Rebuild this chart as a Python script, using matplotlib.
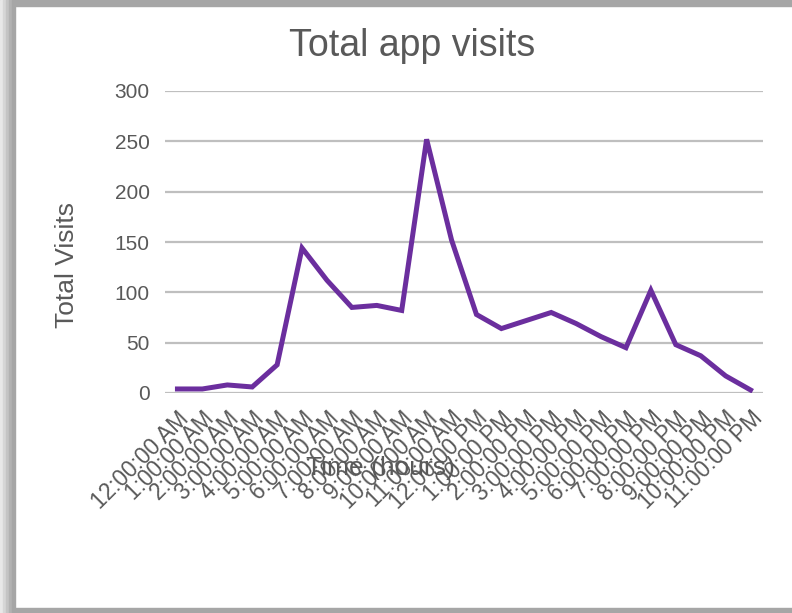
import matplotlib
matplotlib.use("Agg")
import matplotlib.pyplot as plt
from matplotlib.patches import Rectangle

hours = [
    "12:00:00 AM", "1:00:00 AM", "2:00:00 AM", "3:00:00 AM", "4:00:00 AM",
    "5:00:00 AM", "6:00:00 AM", "7:00:00 AM", "8:00:00 AM", "9:00:00 AM",
    "10:00:00 AM", "11:00:00 AM", "12:00:00 PM", "1:00:00 PM", "2:00:00 PM",
    "3:00:00 PM", "4:00:00 PM", "5:00:00 PM", "6:00:00 PM", "7:00:00 PM",
    "8:00:00 PM", "9:00:00 PM", "10:00:00 PM", "11:00:00 PM",
]
visits = [4, 4, 8, 6, 28, 144, 112, 85, 87, 82, 252, 152,
          78, 64, 72, 80, 69, 56, 45, 102, 48, 37, 17, 3]
y_ticks = [0, 50, 100, 150, 200, 250, 300]

text_color = "#595959"
plt.rcParams["font.family"] = ["Liberation Sans", "DejaVu Sans"]

fig = plt.figure(figsize=(7.92, 6.13), dpi=100)
W, H = 792, 613
ax = fig.add_axes([165 / W, (H - 393) / H, 598 / W, 302 / H])

x = list(range(len(hours)))
ax.plot(x, visits, color="#6B2E9E", linewidth=3.6, solid_joinstyle="miter", zorder=3)

ax.set_xlim(-0.5, len(hours) - 0.5)
ax.set_ylim(0, 300)
ax.set_yticks(y_ticks)
ax.set_xticks(x)
ax.set_xticklabels(hours, rotation=45, ha="right", va="top", rotation_mode="anchor")
ax.tick_params(axis="both", length=0, colors=text_color)
ax.tick_params(axis="y", pad=11, labelsize=15)
ax.tick_params(axis="x", pad=10, labelsize=16.3)

ax.grid(axis="y", color="#BFBFBF", linewidth=1.6)
ax.set_axisbelow(True)
for s in ax.spines.values():
    s.set_visible(False)

fig.text(412 / W, 1 - 56 / H, "Total app visits", fontsize=27, color=text_color,
         ha="center", va="baseline")
fig.text(67 / W, 1 - 265 / H, "Total Visits", fontsize=19, color=text_color,
         ha="center", va="center", rotation=90)
fig.text(380 / W, 1 - 468 / H, "Time (hours)", fontsize=19, color=text_color,
         ha="center", va="center")

# grey frame around the chart, as in the screenshot
frame = "#A6A6A6"
fig.patches.append(Rectangle((0, 1 - 6 / H), 1, 6 / H, transform=fig.transFigure,
                             color=frame, zorder=0))
fig.patches.append(Rectangle((0, 0), 1, 5 / H, transform=fig.transFigure,
                             color=frame, zorder=0))
for i, c in enumerate(["#E8E8E8", "#D6D6D6", "#C4C4C4", "#B2B2B2", "#A6A6A6"]):
    fig.patches.append(Rectangle((i * 3 / W, 0), 3 / W, 1, transform=fig.transFigure,
                                 color=c, zorder=0))

fig.savefig("out.png", dpi=100)
